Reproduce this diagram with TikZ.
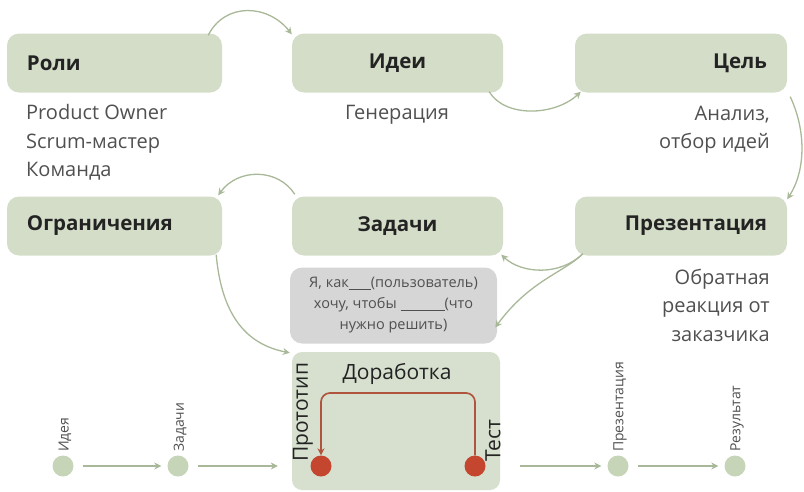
\documentclass[tikz,border=0pt]{standalone}
\usepackage{fontspec}
\setmainfont{Open Sans}
\usetikzlibrary{arrows.meta}
\definecolor{boxfill}{RGB}{212,221,200}
\definecolor{botfill}{RGB}{215,224,206}
\definecolor{grayfill}{RGB}{214,214,214}
\definecolor{circfill}{RGB}{198,212,184}
\definecolor{conn}{RGB}{168,184,152}
\definecolor{redline}{RGB}{176,84,62}
\definecolor{redcirc}{RGB}{196,70,46}
\definecolor{darktext}{RGB}{35,35,35}
\definecolor{lighttext}{RGB}{80,80,80}
\tikzset{
  stepbox/.style={fill=boxfill, rounded corners=12pt, minimum height=59pt, inner sep=0pt,
     text=darktext, font=\fontsize{20.5}{24}\selectfont\bfseries},
  lbox/.style={stepbox, minimum width=215pt, text width=175pt, align=left},
  cbox/.style={stepbox, minimum width=211pt, text width=171pt, align=center},
  rbox/.style={stepbox, minimum width=212pt, text width=172pt, align=right},
  desc/.style={text=lighttext, font=\fontsize{20}{28.5}\selectfont, inner sep=0pt},
  connarrow/.style={draw=conn, line width=1.3pt, -{Stealth[length=7pt,width=7pt]}},
  dot/.style={circle, fill=circfill, minimum size=21pt, inner sep=0pt},
  reddot/.style={circle, fill=redcirc, minimum size=21pt, inner sep=0pt},
  small/.style={text=lighttext, font=\fontsize{14}{16}\selectfont, inner sep=0pt, rotate=90, anchor=west},
  inlabel/.style={text=darktext, font=\fontsize{21}{24}\selectfont, inner sep=0pt},
}
\begin{document}
\begin{tikzpicture}[x=1pt,y=-1pt]
\useasboundingbox (0,0) rectangle (804,491);
% top row
\node[lbox] (roli) at (114.5,63) {Роли};
\node[cbox] (idei) at (397.5,63) {Идеи};
\node[rbox] (cel) at (681,63) {Цель};
% second row
\node[lbox] (ogr) at (114.5,226) {Ограничения};
\node[cbox] (zad) at (397.5,226) {Задачи};
\node[rbox] (pres) at (681,226) {Презентация};
% descriptions
\node[desc, anchor=north west, align=left] (droli) at (26,104.5) {Product Owner\\Scrum-мастер\\Команда};
\node[desc, anchor=north] (didei) at (397,105.5) {Генерация};
\node[desc, anchor=north east, align=right] (dcel) at (770,105.5) {Анализ,\\отбор идей};
\node[desc, anchor=north east, align=right] (dpres) at (770,268.5) {Обратная\\реакция от\\заказчика};
% gray box
\node[fill=grayfill, rounded corners=12pt, minimum width=207pt, minimum height=76pt, inner sep=0pt,
      text=lighttext, align=center, font=\fontsize{14.5}{21}\selectfont] (story) at (393.5,305.5)
      {Я, как\underline{\hspace{22pt}}(пользователь)\\хочу, чтобы \underline{\hspace{44pt}}(что\\нужно решить)};
% bottom box
\node[fill=botfill, rounded corners=10pt, minimum width=208pt, minimum height=138pt, inner sep=0pt] (proc) at (396,421) {};
\node[reddot] (proto) at (321,466) {};
\node[reddot] (test) at (475,466) {};
\coordinate (topline) at (397,393);
\draw[draw=redline, line width=1.7pt, rounded corners=9pt, -{Stealth[length=7pt,width=7pt]}]
   (test.north) -- (test |- topline) -- (proto |- topline) -- (proto.north);
\node[inlabel] (dorab) at (397,374) {Доработка};
\node[inlabel, rotate=90, anchor=west] (lproto) at (303,462) {Прототип};
\node[inlabel, rotate=90, anchor=west] (ltest) at (493,462) {Тест};
% bottom timeline
\node[dot] (c1) at (63,466) {};
\node[dot] (c2) at (178,466) {};
\node[dot] (c3) at (618,466) {};
\node[dot] (c4) at (735,466) {};
\node[small] (l1) at (65,452) {Идея};
\node[small] (l2) at (180,452) {Задачи};
\node[small] (l3) at (620,452) {Презентация};
\node[small] (l4) at (737,452) {Результат};
\draw[connarrow, shorten <=9pt, shorten >=6pt] (c1) -- (c2);
\draw[connarrow, shorten <=9pt, shorten >=14pt] (c2) -- (proc.west |- c2);
\draw[connarrow, shorten <=20pt, shorten >=6pt] (proc.east |- c3) -- (c3);
\draw[connarrow, shorten <=9pt, shorten >=6pt] (c3) -- (c4);
% curved connectors
\draw[connarrow] ([xshift=-14pt,yshift=-2pt]roli.north east) .. controls (225,2) and (268,4) .. ([xshift=0pt,yshift=-1pt]idei.north west);
\draw[connarrow] ([xshift=-14pt,yshift=1pt]idei.south east) .. controls (505,118) and (555,116) .. ([xshift=6pt,yshift=1pt]cel.south west);
\draw[connarrow] ([xshift=3pt,yshift=-4pt]cel.south east) .. controls (806,130) and (806,170) .. ([xshift=0pt,yshift=-3pt]pres.north east);
\draw[connarrow] ([xshift=8pt,yshift=2pt]pres.south west) .. controls (560,276) and (522,274) .. ([xshift=-2pt,yshift=1pt]zad.south east);
\draw[connarrow] ([xshift=8pt,yshift=2pt]pres.south west) .. controls (565,272) and (530,280) .. ([xshift=-2pt,yshift=-22pt]story.east);
\draw[connarrow] ([xshift=3pt,yshift=2pt]zad.north west) .. controls (278,168) and (238,168) .. ([xshift=-4pt,yshift=1pt]ogr.north east);
\draw[connarrow] ([xshift=-6pt,yshift=1pt]ogr.south east) .. controls (222,320) and (250,345) .. ([xshift=-2pt,yshift=-1pt]proc.north west);
\end{tikzpicture}
\end{document}
